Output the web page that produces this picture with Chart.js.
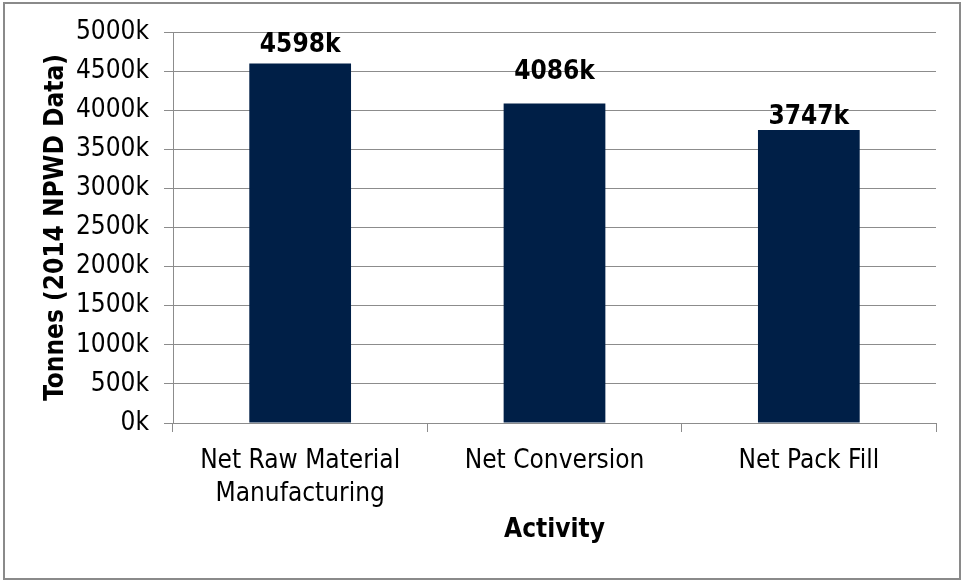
<!DOCTYPE html>
<html>
<head>
<meta charset="utf-8">
<script src="https://cdn.jsdelivr.net/npm/chart.js@4.4.1/dist/chart.umd.min.js"></script>
<style>
    html, body { margin: 0; padding: 0; background: #fff; }
    #wrap { width: 963px; height: 581px; position: relative; }
</style>
</head>
<body>
<div id="wrap"><canvas id="ActivityChart"></canvas></div>
<script>
// tonnes, in thousands
const activities = [['Net Raw Material', 'Manufacturing'], 'Net Conversion', 'Net Pack Fill'];
const tonnes = [4598, 4086, 3747];
const yTicks = [0, 500, 1000, 1500, 2000, 2500, 3000, 3500, 4000, 4500, 5000];

const fontFamily = "'DejaVu Sans Condensed', 'DejaVu Sans', sans-serif";
const gridColor = '#8c8c8c';
const barColor = '#001f47';
// gap between bar top and its value label
const labelGaps = [11, 24, 6];

// outer frame round the whole chart
const framePlugin = {
    id: 'frame',
    beforeDraw(chart) {
        const ctx = chart.ctx;
        ctx.save();
        ctx.fillStyle = '#fff';
        ctx.fillRect(0, 0, chart.width, chart.height);
        ctx.strokeStyle = '#8a8a8a';
        ctx.lineWidth = 2;
        ctx.strokeRect(4, 3, chart.width - 7, chart.height - 5);
        ctx.restore();
    }
};

// bold value labels above each bar
const valueLabels = {
    id: 'valueLabels',
    afterDatasetsDraw(chart) {
        const ctx = chart.ctx;
        const meta = chart.getDatasetMeta(0);
        ctx.save();
        ctx.font = 'bold 26px ' + fontFamily;
        ctx.fillStyle = '#000';
        ctx.textAlign = 'center';
        ctx.textBaseline = 'alphabetic';
        meta.data.forEach((bar, i) => {
            ctx.fillText(tonnes[i] + 'k', bar.x, bar.y - labelGaps[i]);
        });
        ctx.restore();
    }
};

const ctx = document.getElementById('ActivityChart').getContext('2d');
const myChart = new Chart(ctx, {
    type: 'bar',
    data: {
        labels: activities,
        datasets: [{
            data: tonnes,
            backgroundColor: barColor,
            barPercentage: 0.4,
            categoryPercentage: 1.0
        }]
    },
    options: {
        responsive: true,
        maintainAspectRatio: false,
        animation: false,
        layout: {
            padding: { left: 8, right: 27, top: 32, bottom: 8 }
        },
        plugins: {
            legend: { display: false },
            tooltip: { enabled: false }
        },
        scales: {
            x: {
                grid: {
                    offset: true,
                    drawOnChartArea: false,
                    drawTicks: true,
                    tickLength: 9,
                    color: gridColor
                },
                border: { color: gridColor },
                ticks: {
                    color: '#000',
                    padding: 13,
                    maxRotation: 0,
                    font: { family: fontFamily, size: 26, lineHeight: 1.27 }
                },
                title: {
                    display: true,
                    text: 'Activity',
                    color: '#000',
                    padding: { top: 0, bottom: 27 },
                    font: { family: fontFamily, size: 26, weight: 'bold' }
                },
                afterFit(scale) { scale.height = 150; }
            },
            y: {
                min: 0,
                max: 5000,
                afterBuildTicks(scale) {
                    scale.ticks = yTicks.map(v => ({ value: v }));
                },
                grid: {
                    color: gridColor,
                    tickLength: 9
                },
                border: { color: gridColor },
                ticks: {
                    color: '#000',
                    padding: 15,
                    font: { family: fontFamily, size: 26 },
                    callback: v => v + 'k'
                },
                title: {
                    display: true,
                    text: 'Tonnes (2014 NPWD Data)',
                    color: '#000',
                    padding: { top: 33, bottom: 0 },
                    font: { family: fontFamily, size: 26, weight: 'bold' }
                },
                afterFit(scale) { scale.width = 165; }
            }
        }
    },
    plugins: [framePlugin, valueLabels]
});
</script>
</body>
</html>
